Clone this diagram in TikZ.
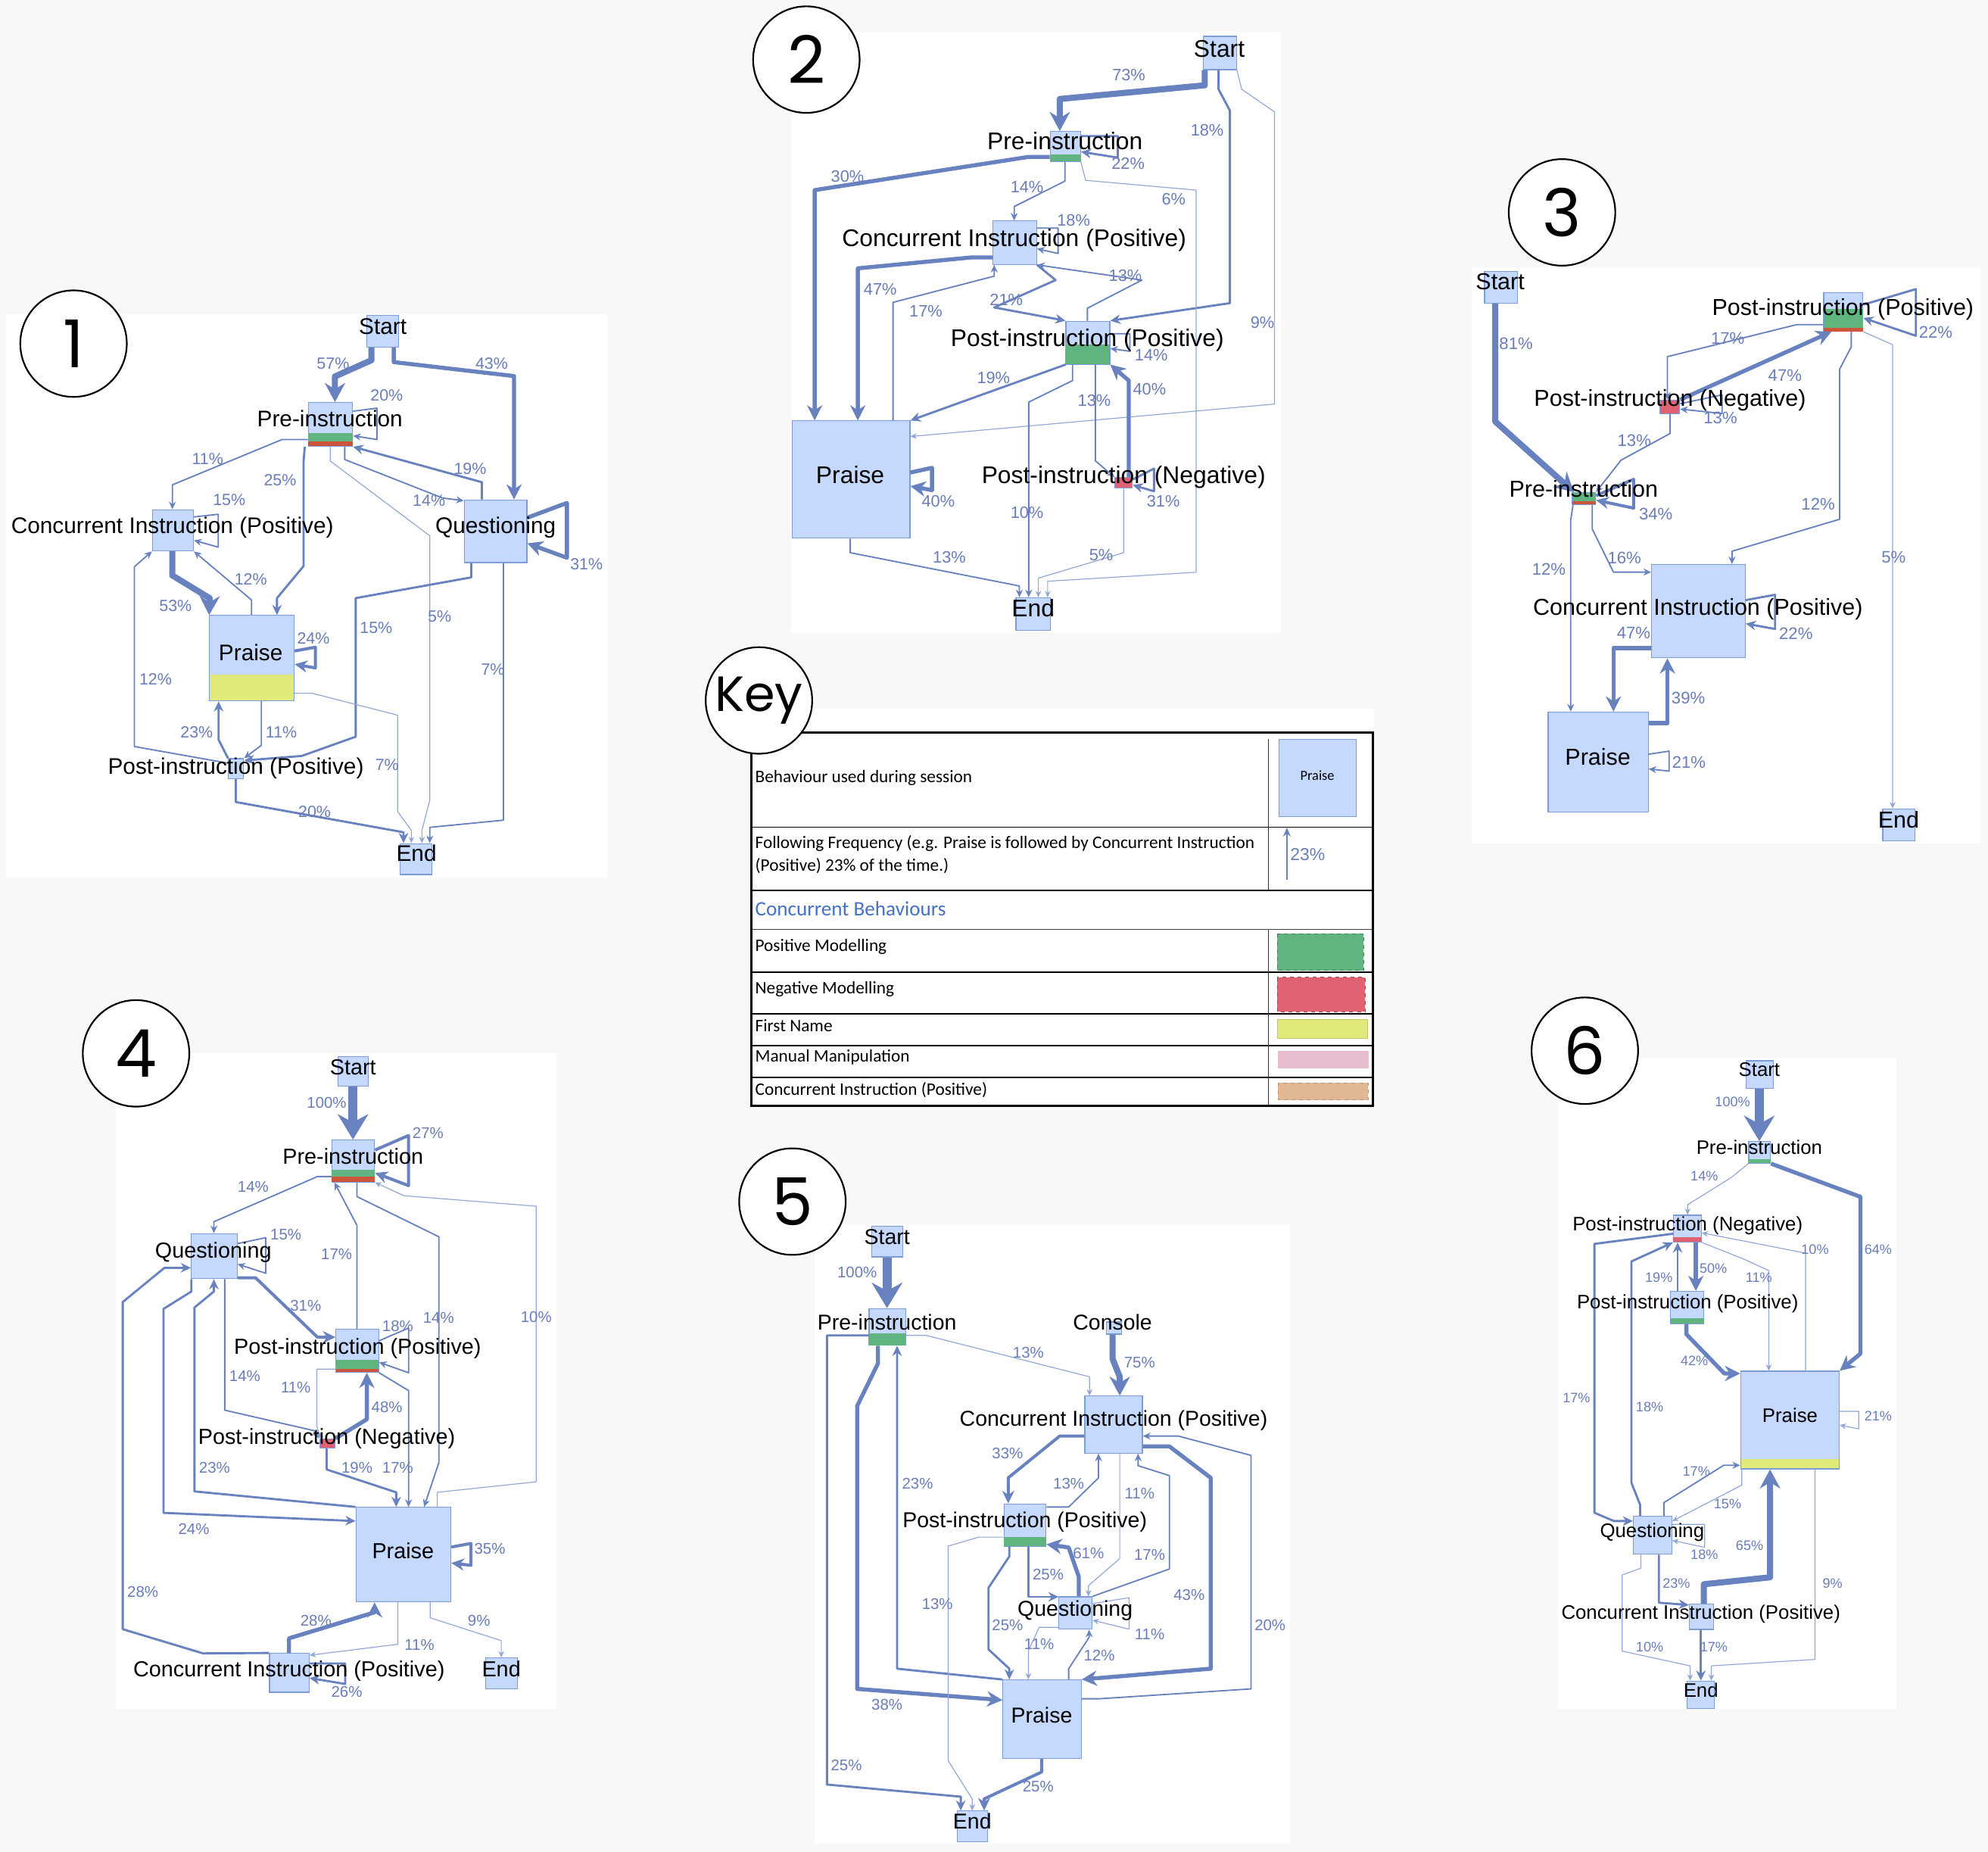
\documentclass[tikz,border=0pt]{standalone}
\usepackage{fontspec}
\setmainfont{Liberation Sans}
\newfontfamily\keyfont{Carlito}
\newfontfamily\numfont{Poppins}
\usetikzlibrary{arrows.meta,fit}
\definecolor{bgc}{RGB}{248,248,248}
\definecolor{edgec}{RGB}{104,130,192}
\definecolor{edgel}{RGB}{145,166,214}
\definecolor{pctc}{RGB}{105,125,185}
\definecolor{boxf}{RGB}{197,217,255}
\definecolor{boxd}{RGB}{125,155,215}
\definecolor{grnc}{RGB}{95,180,127}
\definecolor{redc}{RGB}{224,98,114}
\definecolor{stripec}{RGB}{205,85,60}
\definecolor{ylwc}{RGB}{225,234,120}
\definecolor{pinkc}{RGB}{230,188,206}
\definecolor{tanc}{RGB}{226,184,148}
\definecolor{keyblue}{RGB}{68,114,196}
\tikzset{
  box/.style={draw=boxd, fill=boxf, line width=0.7pt, inner sep=0pt, rectangle},
  ebase/.style={draw=edgec, line join=round},
  w1/.style={ebase, draw=edgel, line width=0.7pt, -{Stealth[length=5pt,width=4.5pt]}},
  w2/.style={ebase, line width=1.1pt, -{Stealth[length=6pt,width=5.5pt]}},
  w3/.style={ebase, line width=1.7pt, -{Stealth[length=8pt,width=7.5pt]}},
  w4/.style={ebase, line width=2.4pt, -{Stealth[length=10pt,width=9.5pt]}},
  w5/.style={ebase, line width=3.2pt, -{Stealth[length=12pt,width=12pt]}},
  w6/.style={ebase, line width=4.8pt, -{Stealth[length=15pt,width=16pt]}},
  w7/.style={ebase, line width=7pt, -{Stealth[length=20pt,width=24pt]}},
  numc/.style={circle, draw=black, fill=white, line width=1.3pt, minimum size=84pt, inner sep=0pt, font=\numfont\fontsize{52}{52}\selectfont},
  keyt/.style={anchor=west, inner sep=0pt, font=\keyfont\fontsize{13.9}{14}\selectfont},
}
\begin{document}
\begin{tikzpicture}[x=1pt,y=-1pt]
\useasboundingbox (0,0) rectangle (1568,1460.5);
\fill[bgc] (0,0) rectangle (1568,1460.5);
% panel backgrounds
\fill[white] (5,248) rectangle (479,692);
\fill[white] (624,25) rectangle (1010,499);
\fill[white] (1161,211) rectangle (1562,665);
\fill[white] (592,559) rectangle (1084,873);
\fill[white] (91.5,830.7) rectangle (438.8,1347.8);
\fill[white] (642.3,965.3) rectangle (1017.4,1454);
\fill[white] (1228.6,834) rectangle (1495.6,1347.6);

%================ PANEL 1 ================
\begin{scope}[shift={(0,226)}, x=0.309pt, y=-0.2978pt,
  lab/.style={font=\fontsize{17.8}{18}\selectfont, inner sep=0pt, text height=12.8pt, text depth=0pt},
  pct/.style={font=\fontsize{12.8}{13}\selectfont, text=pctc, inner sep=0pt, text height=9.2pt, text depth=0pt}]
\node[box,fit={(937,77)(1018,160)}] (p1s) {};
\node[box,fit={(787,307)(900,423)}] (p1pre) {};
\fill[grnc] (787,388) rectangle (900,410);
\fill[stripec] (787,410) rectangle (900,423);
\node[box,fit={(389,591)(494,700)}] (p1ci) {};
\node[box,fit={(1185,565)(1345,731)}] (p1q) {};
\node[box,fit={(535,871)(751,1097)}] (p1pr) {};
\fill[ylwc] (536,1028) rectangle (750,1096);
\node[box,fit={(583,1250)(622,1303)}] (p1po) {};
\node[box,fit={(1022,1475)(1103,1557)}] (p1e) {};
% edges
\draw[w6] (p1s.south -| 948,0) -- (948,195) -- (855,238) -- (p1pre.north -| 855,0);
\draw[w5] (p1s.south -| 1005,0) -- (1005,200) -- (1312,237) -- (p1q.north -| 1312,0);
\draw[w2] (p1pre.east |- 0,330) -- (962,322) -- (962,405) -- (p1pre.east |- 0,395);
\draw[w2] (p1pre.west |- 0,405) -- (720,405) -- (440,525) -- (p1ci.north -| 440,0);
\draw[w3] (p1pre.south -| 778,0) -- (775,460) -- (775,740) -- (707,825) -- (p1pr.north -| 707,0);
\draw[w1] (p1pre.south -| 843,0) -- (843,462) -- (1097,660) -- (1097,1360) -- (1077,1440) -- (p1e.north -| 1077,0);
\draw[w2] (p1pre.south -| 880,0) -- (880,458) -- (1130,560) -- (p1q.west |- 0,567);
\draw[w3] (p1q.north -| 1230,0) -- (1230,518) -- (p1pre.south east);
\draw[w5] (p1q.east |- 0,612) -- (1447,573) -- (1447,718) -- (p1q.east |- 0,680);
\draw[w3] (p1q.south -| 1203,0) -- (1203,770) -- (908,825) -- (908,1192) -- (770,1243) -- (p1po.east |- 0,1255);
\draw[w2] (p1q.south -| 1285,0) -- (1285,1413) -- (1097,1432) -- (p1e.north -| 1097,0);
\draw[w2] (p1ci.east |- 0,610) -- (557,603) -- (557,690) -- (p1ci.east |- 0,672);
\draw[w6] (p1ci.south -| 440,0) -- (440,765) -- (535,825) -- (p1pr.north west);
\draw[w2] (p1pr.north -| 642,0) -- (642,830) -- (p1ci.south east);
\draw[w2] (p1po.west |- 0,1262) -- (343,1218) -- (343,742) -- (p1ci.south west);
\draw[w4] (p1pr.east |- 0,965) -- (805,955) -- (805,1010) -- (p1pr.east |- 0,1000);
\draw[w2] (p1pr.south -| 667,0) -- (667,1215) -- (p1po.north east);
\draw[w3] (p1po.north west) -- (558,1200) -- (p1pr.south -| 558,0);
\draw[w1] (p1pr.east |- 0,1077) -- (797,1077) -- (1015,1135) -- (1015,1390) -- (1050,1440) -- (p1e.north -| 1050,0);
\draw[w3] (p1po.south -| 602,0) -- (602,1365) -- (1030,1445) -- (p1e.north -| 1030,0);
% labels
\node[lab] (p1Ls) at (977,105) {Start};
\node[lab] (p1Lpre) at (842,350) {Pre-instruction};
\node[lab] (p1Lci) at (440,632) {Concurrent Instruction (Positive)};
\node[lab] (p1Lq) at (1265,632) {Questioning};
\node[lab] (p1Lpr) at (640,968) {Praise};
\node[lab] (p1Lpo) at (602,1270) {Post-instruction (Positive)};
\node[lab] (p1Le) at (1063,1500) {End};
\node[pct] (p1t01) at (850,203) {57\%};
\node[pct] (p1t02) at (1255,203) {43\%};
\node[pct] (p1t03) at (987,287) {20\%};
\node[pct] (p1t04) at (530,455) {11\%};
\node[pct] (p1t05) at (715,512) {25\%};
\node[pct] (p1t06) at (1200,482) {19\%};
\node[pct] (p1t07) at (1095,566) {14\%};
\node[pct] (p1t08) at (585,565) {15\%};
\node[pct] (p1t09) at (1497,735) {31\%};
\node[pct] (p1t10) at (640,775) {12\%};
\node[pct] (p1t11) at (448,845) {53\%};
\node[pct] (p1t12) at (800,930) {24\%};
\node[pct] (p1t13) at (960,902) {15\%};
\node[pct] (p1t14) at (1122,873) {5\%};
\node[pct] (p1t15) at (1258,1013) {7\%};
\node[pct] (p1t16) at (397,1040) {12\%};
\node[pct] (p1t17) at (502,1180) {23\%};
\node[pct] (p1t18) at (718,1180) {11\%};
\node[pct] (p1t19) at (988,1265) {7\%};
\node[pct] (p1t20) at (803,1390) {20\%};
\end{scope}

%================ PANEL 2 ================
\begin{scope}[shift={(588.1,17.91)}, x=0.27227pt, y=-0.30845pt,
  lab/.style={font=\fontsize{19}{19}\selectfont, inner sep=0pt, text height=13.7pt, text depth=0pt},
  pct/.style={font=\fontsize{13}{13}\selectfont, text=pctc, inner sep=0pt, text height=9.4pt, text depth=0pt}]
\node[box,fit={(1325,35)(1422,120)}] (p2s) {};
\node[box,fit={(882,278)(970,355)}] (p2pre) {};
\fill[grnc] (882,337) rectangle (970,355);
\node[box,fit={(717,507)(843,618)}] (p2ci) {};
\node[box,fit={(928,763)(1055,873)}] (p2po) {};
\fill[grnc] (928,823) rectangle (1055,873);
\node[box,fit={(135,1018)(476,1318)}] (p2pr) {};
\node[box,fill=redc,fit={(1070,1163)(1120,1190)}] (p2ng) {};
\node[box,fit={(783,1470)(883,1553)}] (p2e) {};
\draw[w6] (p2s.south -| 1330,0) -- (1330,160) -- (910,195) -- (p2pre.north -| 910,0);
\draw[w3] (p2s.south -| 1370,0) -- (1370,170) -- (1403,225) -- (1403,717) -- (p2po.north east);
\draw[w1] (p2s.south east) -- (1437,170) -- (1532,228) -- (1532,975) -- (p2pr.east |- 0,1058);
\draw[w3] (p2pre.east |- 0,290) -- (1078,290) -- (1078,345) -- (p2pre.east |- 0,330);
\draw[w5] (p2pre.west |- 0,343) -- (820,343) -- (200,428) -- (p2pr.north -| 200,0);
\draw[w2] (p2pre.south -| 925,0) -- (925,405) -- (778,470) -- (p2ci.north -| 778,0);
\draw[w1] (p2pre.south east) -- (985,403) -- (1305,428) -- (1305,1405) -- (875,1428) -- (p2e.north -| 875,0);
\draw[w2] (p2ci.east |- 0,525) -- (905,525) -- (905,590) -- (p2ci.east |- 0,578);
\draw[w5] (p2ci.west |- 0,600) -- (655,600) -- (325,628) -- (p2pr.north -| 325,0);
\draw[w2] (p2pr.north -| 427,0) -- (427,715) -- (720,648) -- (p2ci.south -| 720,0);
\draw[w3] (p2ci.south east) -- (898,658) -- (720,728) -- (p2po.north west);
\draw[w2] (p2po.north -| 990,0) -- (990,730) -- (1148,658) -- (p2ci.south east);
\draw[w2] (p2po.east |- 0,795) -- (1113,795) -- (1113,840) -- (p2po.east |- 0,833);
\draw[w3] (p2po.south west) -- (p2pr.north east);
\draw[w2] (p2po.south -| 947,0) -- (947,915) -- (820,970) -- (p2e.north -| 820,0);
\draw[w2] (p2po.south -| 1013,0) -- (1013,1120) -- (p2ng.north west);
\draw[w5] (p2ng.north -| 1110,0) -- (1110,915) -- (p2po.south east);
\draw[w3] (p2ng.east |- 0,1168) -- (1183,1140) -- (1183,1198) -- (p2ng.east |- 0,1182);
\draw[w5] (p2pr.east |- 0,1150) -- (540,1138) -- (540,1195) -- (p2pr.east |- 0,1185);
\draw[w2] (p2pr.south -| 303,0) -- (303,1355) -- (793,1440) -- (p2e.north -| 793,0);
\draw[w1] (p2ng.south -| 1095,0) -- (1095,1355) -- (848,1420) -- (p2e.north -| 848,0);
\node[lab] (p2Ls) at (1372,65) {Start};
\node[lab] (p2Lpre) at (925,303) {Pre-instruction};
\node[lab] (p2Lci) at (778,550) {Concurrent Instruction (Positive)};
\node[lab] (p2Lpo) at (990,805) {Post-instruction (Positive)};
\node[lab] (p2Lpr) at (303,1155) {Praise};
\node[lab] (p2Lng) at (1095,1155) {Post-instruction (Negative)};
\node[lab] (p2Le) at (833,1497) {End};
\node[pct] (p2t01) at (1110,133) {73\%};
\node[pct] (p2t02) at (1337,275) {18\%};
\node[pct] (p2t03) at (1108,360) {22\%};
\node[pct] (p2t04) at (295,392) {30\%};
\node[pct] (p2t05) at (815,420) {14\%};
\node[pct] (p2t06) at (1240,450) {6\%};
\node[pct] (p2t07) at (950,505) {18\%};
\node[pct] (p2t08) at (390,680) {47\%};
\node[pct] (p2t09) at (522,737) {17\%};
\node[pct] (p2t10) at (755,708) {21\%};
\node[pct] (p2t11) at (1100,645) {13\%};
\node[pct] (p2t12) at (1497,765) {9\%};
\node[pct] (p2t13) at (1175,850) {14\%};
\node[pct] (p2t14) at (718,908) {19\%};
\node[pct] (p2t15) at (1170,937) {40\%};
\node[pct] (p2t16) at (1010,965) {13\%};
\node[pct] (p2t17) at (558,1222) {40\%};
\node[pct] (p2t18) at (1210,1222) {31\%};
\node[pct] (p2t19) at (815,1252) {10\%};
\node[pct] (p2t20) at (590,1365) {13\%};
\node[pct] (p2t21) at (1030,1360) {5\%};
\end{scope}

%================ PANEL 3 ================
\begin{scope}[shift={(1158.4,119.4)}, x=0.26123pt, y=-0.35034pt,
  lab/.style={font=\fontsize{18.2}{18}\selectfont, inner sep=0pt, text height=13.1pt, text depth=0pt},
  pct/.style={font=\fontsize{13.2}{13}\selectfont, text=pctc, inner sep=0pt, text height=9.5pt, text depth=0pt}]
\node[box,fit={(48,270)(147,342)}] (p3s) {};
\node[box,fit={(1072,318)(1190,405)}] (p3po) {};
\fill[grnc] (1072,355) rectangle (1190,397);
\fill[stripec] (1072,397) rectangle (1190,405);
\node[box,fill=redc,fit={(577,560)(637,590)}] (p3ng) {};
\node[box,fill=grnc,fit={(313,768)(383,795)}] (p3pre) {};
\fill[stripec] (313,787) rectangle (383,795);
\node[box,fit={(552,930)(835,1140)}] (p3ci) {};
\node[box,fit={(240,1262)(542,1487)}] (p3pr) {};
\node[box,fit={(1250,1480)(1348,1552)}] (p3e) {};
\draw[w6] (p3s.south -| 80,0) -- (80,608) -- (p3pre.north -| 318,0);
\draw[w3] (p3po.east |- 0,345) -- (1350,310) -- (1350,415) -- (p3po.east |- 0,375);
\draw[w2] (p3po.west |- 0,390) -- (990,390) -- (600,462) -- (p3ng.north -| 600,0);
\draw[w5] (p3ng.north east) -- (p3po.south -| 1095,0);
\draw[w2] (p3ng.east |- 0,568) -- (765,548) -- (765,590) -- (p3ng.east |- 0,580);
\draw[w2] (p3ng.south -| 608,0) -- (608,635) -- (460,695) -- (p3pre.north east);
\draw[w4] (p3pre.east |- 0,775) -- (498,738) -- (498,803) -- (p3pre.east |- 0,785);
\draw[w2] (p3po.south -| 1155,0) -- (1155,440) -- (1120,490) -- (1120,828) -- (795,900) -- (p3ci.north -| 795,0);
\draw[w1] (p3po.south east) -- (1280,435) -- (p3e.north -| 1280,0);
\draw[w2] (p3pre.south -| 315,0) -- (308,830) -- (p3pr.north -| 308,0);
\draw[w2] (p3pre.south -| 373,0) -- (373,850) -- (437,947) -- (p3ci.west |- 0,947);
\draw[w3] (p3ci.east |- 0,1010) -- (925,998) -- (925,1075) -- (p3ci.east |- 0,1063);
\draw[w5] (p3ci.west |- 0,1118) -- (437,1118) -- (p3pr.north -| 437,0);
\draw[w5] (p3pr.east |- 0,1287) -- (600,1287) -- (p3ci.south -| 600,0);
\draw[w2] (p3pr.east |- 0,1357) -- (605,1350) -- (605,1395) -- (p3pr.east |- 0,1390);
\node[lab] (p3Ls) at (95,293) {Start};
\node[lab] (p3Lpo) at (1130,350) {Post-instruction (Positive)};
\node[lab] (p3Lng) at (608,555) {Post-instruction (Negative)};
\node[lab] (p3Lpre) at (347,760) {Pre-instruction};
\node[lab] (p3Lci) at (692,1025) {Concurrent Instruction (Positive)};
\node[lab] (p3Lpr) at (390,1363) {Praise};
\node[lab] (p3Le) at (1298,1505) {End};
\node[pct] (p3t01) at (143,432) {81\%};
\node[pct] (p3t02) at (1410,407) {22\%};
\node[pct] (p3t03) at (782,420) {17\%};
\node[pct] (p3t04) at (955,503) {47\%};
\node[pct] (p3t05) at (760,600) {13\%};
\node[pct] (p3t06) at (500,650) {13\%};
\node[pct] (p3t07) at (565,815) {34\%};
\node[pct] (p3t08) at (1055,793) {12\%};
\node[pct] (p3t09) at (1283,913) {5\%};
\node[pct] (p3t10) at (242,940) {12\%};
\node[pct] (p3t11) at (470,915) {16\%};
\node[pct] (p3t12) at (988,1085) {22\%};
\node[pct] (p3t13) at (498,1083) {47\%};
\node[pct] (p3t14) at (663,1230) {39\%};
\node[pct] (p3t15) at (665,1375) {21\%};
\end{scope}

%================ PANEL 4 ================
\begin{scope}[shift={(62.7,788.2)}, x=0.24371pt, y=-0.35986pt,
  lab/.style={font=\fontsize{17.2}{17}\selectfont, inner sep=0pt, text height=12.4pt, text depth=0pt},
  pct/.style={font=\fontsize{12.2}{12}\selectfont, text=pctc, inner sep=0pt, text height=8.8pt, text depth=0pt}]
\node[box,fit={(837,125)(935,190)}] (p4s) {};
\node[box,fit={(817,308)(955,400)}] (p4pre) {};
\fill[grnc] (817,373) rectangle (955,388);
\fill[stripec] (817,388) rectangle (955,400);
\node[box,fit={(362,513)(510,612)}] (p4q) {};
\node[box,fit={(830,723)(968,817)}] (p4po) {};
\fill[grnc] (830,790) rectangle (968,810);
\fill[stripec] (830,810) rectangle (968,817);
\node[box,fill=redc,fit={(777,963)(827,983)}] (p4ng) {};
\node[box,fit={(895,1113)(1202,1320)}] (p4pr) {};
\node[box,fit={(615,1433)(743,1518)}] (p4ci) {};
\node[box,fit={(1315,1443)(1417,1510)}] (p4e) {};
\draw[w7] (p4s.south -| 885,0) -- (p4pre.north -| 885,0);
\draw[w4] (p4pre.east |- 0,330) -- (1065,298) -- (1065,408) -- (p4pre.east |- 0,380);
\draw[w2] (p4pre.west |- 0,388) -- (770,388) -- (435,487) -- (p4q.north -| 435,0);
\draw[w2] (p4pre.south -| 898,0) -- (898,432) -- (1163,520) -- (1163,1015) -- (p4pr.north -| 1115,0);
\draw[w1] (p4pr.north -| 1158,0) -- (1158,1080) -- (1478,1057) -- (1478,453) -- (1050,430) -- (p4pre.south east);
\draw[w2] (p4po.north -| 898,0) -- (898,495) -- (p4pre.south -| 825,0);
\draw[w2] (p4q.east |- 0,535) -- (603,522) -- (603,600) -- (p4q.east |- 0,580);
\draw[w4] (p4q.east |- 0,610) -- (570,610) -- (770,740) -- (p4po.west |- 0,740);
\draw[w2] (p4q.south -| 470,0) -- (470,900) -- (760,945) -- (p4ng.north west);
\draw[w1] (p4po.west |- 0,810) -- (768,810) -- (768,935) -- (p4ng.north -| 780,0);
\draw[w5] (p4ng.north east) -- (930,920) -- (p4po.south -| 930,0);
\draw[w2] (p4po.east |- 0,748) -- (1065,720) -- (1065,818) -- (p4po.east |- 0,795);
\draw[w2] (p4po.south east) -- (1065,857) -- (p4pr.north -| 1065,0);
\draw[w3] (p4ng.south -| 800,0) -- (800,1030) -- (1025,1080) -- (p4pr.north -| 1025,0);
\draw[w3] (p4pr.north west) -- (372,1078) -- (372,675) -- (435,640) -- (p4q.south -| 435,0);
\draw[w3] (p4q.south -| 362,0) -- (362,640) -- (272,678) -- (272,1125) -- (p4pr.west |- 0,1143);
\draw[w3] (p4ci.north west) -- (400,1433) -- (140,1380) -- (140,663) -- (275,588) -- (p4q.west |- 0,588);
\draw[w5] (p4ci.north -| 678,0) -- (678,1400) -- (955,1343) -- (p4pr.south -| 955,0);
\draw[w1] (p4pr.south -| 1030,0) -- (1030,1413) -- (p4ci.east |- 0,1437);
\draw[w3] (p4ci.east |- 0,1455) -- (860,1455) -- (860,1500) -- (p4ci.east |- 0,1487);
\draw[w4] (p4pr.east |- 0,1200) -- (1267,1192) -- (1267,1240) -- (p4pr.east |- 0,1235);
\draw[w1] (p4pr.south -| 1135,0) -- (1135,1355) -- (1365,1405) -- (p4e.north -| 1365,0);
\node[lab] (p4Ls) at (885,148) {Start};
\node[lab] (p4Lpre) at (885,343) {Pre-instruction};
\node[lab] (p4Lq) at (433,550) {Questioning};
\node[lab] (p4Lpo) at (900,760) {Post-instruction (Positive)};
\node[lab] (p4Lng) at (800,957) {Post-instruction (Negative)};
\node[lab] (p4Lpr) at (1047,1208) {Praise};
\node[lab] (p4Lci) at (678,1467) {Concurrent Instruction (Positive)};
\node[lab] (p4Le) at (1365,1467) {End};
\node[pct] (p4t01) at (800,225) {100\%};
\node[pct] (p4t02) at (1128,292) {27\%};
\node[pct] (p4t03) at (562,410) {14\%};
\node[pct] (p4t04) at (668,515) {15\%};
\node[pct] (p4t05) at (832,557) {17\%};
\node[pct] (p4t06) at (732,670) {31\%};
\node[pct] (p4t07) at (1030,715) {18\%};
\node[pct] (p4t08) at (1162,697) {14\%};
\node[pct] (p4t09) at (1478,695) {10\%};
\node[pct] (p4t10) at (535,825) {14\%};
\node[pct] (p4t11) at (700,850) {11\%};
\node[pct] (p4t12) at (995,893) {48\%};
\node[pct] (p4t13) at (437,1025) {23\%};
\node[pct] (p4t14) at (898,1025) {19\%};
\node[pct] (p4t15) at (1030,1025) {17\%};
\node[pct] (p4t16) at (370,1160) {24\%};
\node[pct] (p4t17) at (1328,1203) {35\%};
\node[pct] (p4t18) at (205,1297) {28\%};
\node[pct] (p4t19) at (765,1360) {28\%};
\node[pct] (p4t20) at (1293,1360) {9\%};
\node[pct] (p4t21) at (1100,1413) {11\%};
\node[pct] (p4t22) at (865,1517) {26\%};
\end{scope}

%================ PANEL 5 ================
\begin{scope}[shift={(576.2,901.6)}, x=0.2837pt, y=-0.35414pt,
  lab/.style={font=\fontsize{17}{17}\selectfont, inner sep=0pt, text height=12.2pt, text depth=0pt},
  pct/.style={font=\fontsize{12.2}{12}\selectfont, text=pctc, inner sep=0pt, text height=8.8pt, text depth=0pt}]
\node[box,fit={(393,185)(478,253)}] (p5s) {};
\node[box,fit={(385,368)(487,450)}] (p5pre) {};
\fill[grnc] (385,423) rectangle (487,450);
\node[box,fit={(1045,398)(1087,425)}] (p5con) {};
\node[box,fit={(985,563)(1145,690)}] (p5ci) {};
\node[box,fit={(760,803)(877,897)}] (p5po) {};
\fill[grnc] (760,877) rectangle (877,897);
\node[box,fit={(913,1010)(1005,1082)}] (p5q) {};
\node[box,fit={(757,1195)(975,1370)}] (p5pr) {};
\node[box,fit={(630,1487)(715,1555)}] (p5e) {};
\draw[w7] (p5s.south -| 435,0) -- (p5pre.north -| 435,0);
\draw[w6] (p5con.south -| 1062,0) -- (1062,480) -- (1082,520) -- (p5ci.north -| 1082,0);
\draw[w1] (p5pre.east |- 0,428) -- (545,428) -- (998,520) -- (p5ci.north -| 998,0);
\draw[w5] (p5pre.south -| 410,0) -- (410,490) -- (352,585) -- (352,1215) -- (p5pr.west |- 0,1240);
\draw[w3] (p5pre.west |- 0,428) -- (268,428) -- (268,1428) -- (640,1455) -- (p5e.north -| 640,0);
\draw[w3] (p5pr.north west) -- (463,1170) -- (p5pre.south -| 463,0);
\draw[w4] (p5ci.west |- 0,652) -- (915,652) -- (772,745) -- (p5po.north -| 772,0);
\draw[w2] (p5po.east |- 0,810) -- (940,810) -- (1023,745) -- (p5ci.south -| 1023,0);
\draw[w1] (p5ci.south -| 1082,0) -- (1082,925) -- (995,985) -- (p5q.north -| 995,0);
\draw[w2] (p5q.north east) -- (1220,948) -- (1220,740) -- (1133,718) -- (p5ci.south -| 1133,0);
\draw[w5] (p5ci.east |- 0,675) -- (1220,675) -- (1335,745) -- (1335,1170) -- (p5pr.north east);
\draw[w2] (p5pr.east |- 0,1237) -- (1025,1237) -- (1447,1215) -- (1447,695) -- (1245,652) -- (p5ci.east |- 0,652);
\draw[w5] (p5q.north -| 968,0) -- (968,965) -- (940,900) -- (p5po.east |- 0,893);
\draw[w3] (p5po.south -| 828,0) -- (828,1010) -- (p5q.west |- 0,1010);
\draw[w3] (p5po.south -| 775,0) -- (775,920) -- (717,990) -- (717,1127) -- (775,1170) -- (p5pr.north -| 775,0);
\draw[w1] (p5po.west |- 0,877) -- (690,877) -- (605,897) -- (605,1375) -- (672,1460) -- (p5e.north -| 672,0);
\draw[w1] (p5q.west |- 0,1078) -- (858,1078) -- (828,1130) -- (p5pr.north -| 828,0);
\draw[w2] (p5pr.north -| 940,0) -- (940,1170) -- (997,1100) -- (p5q.south -| 997,0);
\draw[w1] (p5q.east |- 0,1025) -- (1108,1012) -- (1108,1082) -- (p5q.east |- 0,1062);
\draw[w4] (p5pr.south -| 865,0) -- (865,1400) -- (705,1460) -- (p5e.north -| 705,0);
\node[lab] (p5Ls) at (435,208) {Start};
\node[lab] (p5Lpre) at (435,398) {Pre-instruction};
\node[lab] (p5Lcon) at (1062,398) {Console};
\node[lab] (p5Lci) at (1065,613) {Concurrent Instruction (Positive)};
\node[lab] (p5Lpo) at (818,838) {Post-instruction (Positive)};
\node[lab] (p5Lq) at (958,1035) {Questioning};
\node[lab] (p5Lpr) at (865,1273) {Praise};
\node[lab] (p5Le) at (672,1510) {End};
\node[pct] (p5t01) at (352,287) {100\%};
\node[pct] (p5t02) at (1137,488) {75\%};
\node[pct] (p5t03) at (828,465) {13\%};
\node[pct] (p5t04) at (770,690) {33\%};
\node[pct] (p5t05) at (520,758) {23\%};
\node[pct] (p5t06) at (940,758) {13\%};
\node[pct] (p5t07) at (1137,780) {11\%};
\node[pct] (p5t08) at (1165,915) {17\%};
\node[pct] (p5t09) at (995,913) {61\%};
\node[pct] (p5t10) at (883,960) {25\%};
\node[pct] (p5t11) at (1275,1005) {43\%};
\node[pct] (p5t12) at (575,1025) {13\%};
\node[pct] (p5t13) at (770,1072) {25\%};
\node[pct] (p5t14) at (1500,1072) {20\%};
\node[pct] (p5t15) at (858,1115) {11\%};
\node[pct] (p5t16) at (1165,1092) {11\%};
\node[pct] (p5t17) at (1025,1140) {12\%};
\node[pct] (p5t18) at (435,1250) {38\%};
\node[pct] (p5t19) at (322,1385) {25\%};
\node[pct] (p5t20) at (855,1432) {25\%};
\end{scope}

%================ PANEL 6 ================
\begin{scope}[shift={(1204,782)}, x=0.197pt, y=-0.3637pt,
  lab/.style={font=\fontsize{15.4}{15}\selectfont, inner sep=0pt, text height=11.1pt, text depth=0pt},
  pct/.style={font=\fontsize{10.8}{11}\selectfont, text=pctc, inner sep=0pt, text height=7.8pt, text depth=0pt}]
\node[box,fit={(878,150)(988,210)}] (p6s) {};
\node[box,fit={(890,325)(977,372)}] (p6pre) {};
\fill[grnc] (890,363) rectangle (977,372);
\node[box,fit={(588,485)(700,543)}] (p6ng) {};
\fill[redc] (588,533) rectangle (700,543);
\node[box,fit={(577,650)(710,720)}] (p6po) {};
\fill[grnc] (577,708) rectangle (710,720);
\node[box,fit={(857,823)(1252,1035)}] (p6pr) {};
\fill[ylwc] (858,1013) rectangle (1251,1034);
\node[box,fit={(428,1138)(582,1220)}] (p6q) {};
\node[box,fit={(652,1328)(750,1383)}] (p6ci) {};
\node[box,fit={(643,1495)(753,1555)}] (p6e) {};
\draw[w7] (p6s.south -| 932,0) -- (p6pre.north -| 932,0);
\draw[w5] (p6pre.south east) -- (1337,445) -- (1337,785) -- (p6pr.north east);
\draw[w1] (p6pre.south west) -- (820,403) -- (645,462) -- (p6ng.north -| 645,0);
\draw[w5] (p6ng.south -| 678,0) -- (p6po.north -| 678,0);
\draw[w3] (p6po.north -| 605,0) -- (p6ng.south -| 605,0);
\draw[w1] (p6ng.south east) -- (870,580) -- (970,605) -- (p6pr.north -| 970,0);
\draw[w1] (p6pr.north -| 1117,0) -- (1117,567) -- (p6ng.east |- 0,523);
\draw[w5] (p6po.south -| 640,0) -- (640,743) -- (792,828) -- (p6pr.west |- 0,828);
\draw[w3] (p6ng.west |- 0,525) -- (272,547) -- (272,1130) -- (350,1148) -- (p6q.west |- 0,1148);
\draw[w3] (p6q.north -| 455,0) -- (455,1113) -- (420,1065) -- (420,585) -- (p6ng.south west);
\draw[w2] (p6q.north -| 550,0) -- (550,1108) -- (790,1027) -- (p6pr.west |- 0,1027);
\draw[w1] (p6pr.south -| 862,0) -- (862,1070) -- (p6q.east |- 0,1148);
\draw[w1] (p6q.east |- 0,1155) -- (713,1155) -- (713,1205) -- (p6q.east |- 0,1190);
\draw[w3] (p6q.south -| 530,0) -- (530,1325) -- (p6ci.west |- 0,1330);
\draw[w6] (p6ci.north -| 710,0) -- (710,1285) -- (975,1270) -- (p6pr.south -| 975,0);
\draw[w1] (p6q.south -| 458,0) -- (458,1250) -- (383,1265) -- (383,1430) -- (655,1462) -- (p6e.north -| 655,0);
\draw[w3] (p6ci.south -| 698,0) -- (p6e.north -| 698,0);
\draw[w1] (p6pr.south -| 1155,0) -- (1155,1448) -- (740,1462) -- (p6e.north -| 740,0);
\draw[w1] (p6pr.east |- 0,910) -- (1330,910) -- (1330,948) -- (p6pr.east |- 0,940);
\node[lab] (p6Ls) at (932,168) {Start};
\node[lab] (p6Lpre) at (932,337) {Pre-instruction};
\node[lab] (p6Lng) at (645,503) {Post-instruction (Negative)};
\node[lab] (p6Lpo) at (645,673) {Post-instruction (Positive)};
\node[lab] (p6Lpr) at (1055,918) {Praise};
\node[lab] (p6Lq) at (503,1168) {Questioning};
\node[lab] (p6Lci) at (698,1345) {Concurrent Instruction (Positive)};
\node[lab] (p6Le) at (698,1515) {End};
\node[pct] (p6t01) at (825,238) {100\%};
\node[pct] (p6t02) at (712,400) {14\%};
\node[pct] (p6t03) at (1408,558) {64\%};
\node[pct] (p6t04) at (1155,558) {10\%};
\node[pct] (p6t05) at (748,600) {50\%};
\node[pct] (p6t06) at (530,620) {19\%};
\node[pct] (p6t07) at (930,620) {11\%};
\node[pct] (p6t08) at (672,800) {42\%};
\node[pct] (p6t09) at (200,880) {17\%};
\node[pct] (p6t10) at (493,900) {18\%};
\node[pct] (p6t11) at (1408,920) {21\%};
\node[pct] (p6t12) at (680,1040) {17\%};
\node[pct] (p6t13) at (805,1110) {15\%};
\node[pct] (p6t14) at (893,1200) {65\%};
\node[pct] (p6t15) at (712,1220) {18\%};
\node[pct] (p6t16) at (600,1282) {23\%};
\node[pct] (p6t17) at (1225,1282) {9\%};
\node[pct] (p6t18) at (493,1420) {10\%};
\node[pct] (p6t19) at (750,1420) {17\%};
\end{scope}

%================ KEY ================
\draw[line width=0.9pt] (592.4,652.2) -- (1082.8,652.2);
\draw[line width=0.9pt] (592.4,702.3) -- (1082.8,702.3);
\draw[line width=0.9pt, black!75] (592.4,733) -- (1082.8,733);
\draw[line width=0.9pt] (592.4,766.7) -- (1082.8,766.7);
\draw[line width=0.9pt] (592.4,799.5) -- (1082.8,799.5);
\draw[line width=0.9pt] (592.4,824.6) -- (1082.8,824.6);
\draw[line width=0.9pt] (592.4,849.8) -- (1082.8,849.8);
\draw[line width=0.6pt, black!80] (1000.6,583) -- (1000.6,702.3);
\draw[line width=0.6pt, black!80] (1000.6,733) -- (1000.6,872.3);
\draw[line width=1.8pt] (592.4,577.6) rectangle (1082.8,872.3);
\node[box,fit={(1008.8,583.1)(1069.8,644)}] (keypr) {};
\node[font=\keyfont\fontsize{11}{11}\selectfont, inner sep=0pt] (keyprL) at (1039,611.4) {Praise};
\coordinate (keyarA) at (1015,694);
\coordinate (keyarB) at (1015,652.7);
\draw[ebase, line width=1.3pt, -{Stealth[length=7pt,width=6pt]}] (keyarA) -- (keyarB);
\node[font=\fontsize{13.7}{14}\selectfont, text=pctc, inner sep=0pt, text height=9.8pt, text depth=0pt] (keypct) at (1031.4,673.5) {23\%};
\filldraw[fill=grnc, draw=grnc!70!black, dashed, line width=0.6pt] (1007.4,736.5) rectangle (1075.6,765.3);
\filldraw[fill=redc, draw=redc!70!black, dashed, line width=0.6pt] (1007.4,770.8) rectangle (1076.7,797.9);
\filldraw[fill=ylwc, draw=ylwc!85!black, line width=0.4pt] (1007.4,803.8) rectangle (1078.4,818.7);
\filldraw[fill=pinkc, draw=pinkc, line width=0.4pt] (1008.1,829.1) rectangle (1079,842.3);
\filldraw[fill=tanc, draw=tanc!80!black, dashed, line width=0.6pt] (1008.1,853.9) rectangle (1079,867.5);
\node[keyt] (k1) at (595.5,613.7) {Behaviour used during session};
\node[keyt] (k2a) at (595.5,665.2) {Following Frequency (e.g. Praise is followed by Concurrent Instruction};
\node[keyt] (k2b) at (595.5,682.7) {(Positive) 23\% of the time.)};
\node[keyt, text=keyblue, font=\keyfont\fontsize{16.2}{16}\selectfont] (k3) at (595.5,716.4) {Concurrent Behaviours};
\node[keyt] (k4) at (595.5,746.7) {Positive Modelling};
\node[keyt] (k5) at (595.5,780.2) {Negative Modelling};
\node[keyt] (k6) at (595.5,809) {First Name};
\node[keyt] (k7) at (595.5,834) {Manual Manipulation};
\node[keyt] (k8) at (595.5,859.3) {Concurrent Instruction (Positive)};

%================ NUMBER CIRCLES ================
\node[numc] (c1) at (58,271) {1};
\node[numc] (c2) at (636,47) {2};
\node[numc] (c3) at (1232,167.5) {3};
\node[numc, font=\numfont\fontsize{39}{39}\selectfont] (ckey) at (598.6,552.4) {Key};
\node[numc] (c4) at (107.3,830.7) {4};
\node[numc] (c5) at (625,947.6) {5};
\node[numc] (c6) at (1250,828.6) {6};
\end{tikzpicture}
\end{document}
